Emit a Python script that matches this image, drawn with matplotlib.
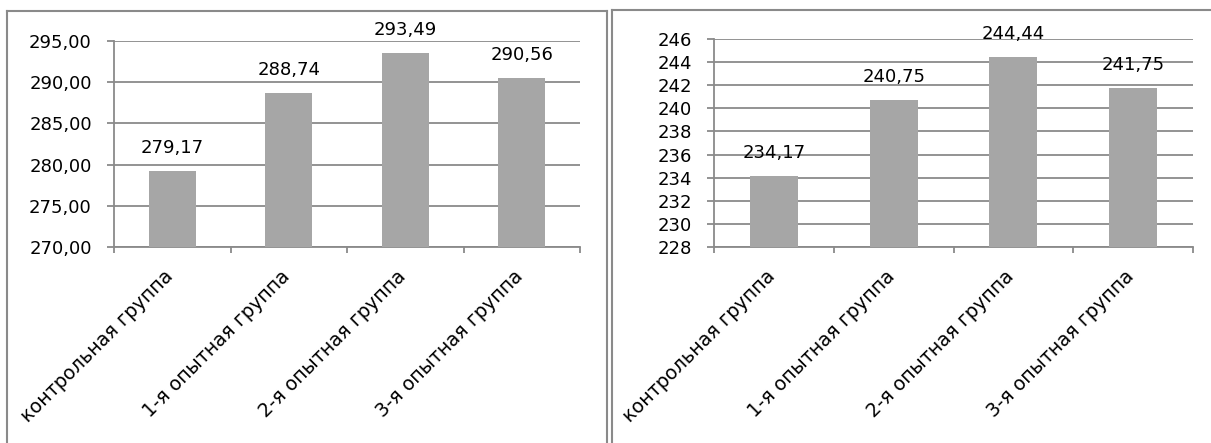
import matplotlib.pyplot as plt
import numpy as np
from matplotlib.lines import Line2D
from matplotlib.ticker import FuncFormatter, MultipleLocator

# Данные
groups = ['контрольная группа', '1-я опытная группа', '2-я опытная группа', '3-я опытная группа']
values_left = [279.17, 288.74, 293.49, 290.56]
values_right = [234.17, 240.75, 244.44, 241.75]

W, H = 1211, 443
plt.rcParams['font.family'] = ['DejaVu Sans']
fig = plt.figure(figsize=(W / 100, H / 100), dpi=100)

bar_color = '#a6a6a6'
line_color = '#8a8a8a'
fs = 13


def px_rect(x0, x1, ytop, ybot):
    return [x0 / W, 1 - ybot / H, (x1 - x0) / W, (ybot - ytop) / H]


def draw(ax, vals, ylim, step, fmt):
    x = np.arange(len(vals))
    bars = ax.bar(x, vals, width=0.40, color=bar_color, zorder=3)
    ax.set_xlim(-0.5, len(vals) - 0.5)
    ax.set_ylim(*ylim)
    ax.yaxis.set_major_locator(MultipleLocator(step))
    ax.yaxis.set_major_formatter(FuncFormatter(fmt))
    ax.grid(axis='y', color=line_color, linewidth=1.3, zorder=0)
    for s in ['top', 'right']:
        ax.spines[s].set_visible(False)
    for s in ['left', 'bottom']:
        ax.spines[s].set_color(line_color)
        ax.spines[s].set_linewidth(1.3)
    ax.set_xticks(x + 0.04)
    ax.set_xticklabels(groups, rotation=45, ha='right', fontsize=13.8)
    ax.set_xticks(np.arange(-0.5, len(vals)), minor=True)
    ax.tick_params(axis='x', which='major', length=0, pad=14)
    ax.tick_params(axis='x', which='minor', length=4.5, width=1.3, color=line_color)
    ax.tick_params(axis='y', length=5, width=1.3, color=line_color, pad=11, labelsize=fs)
    for b, v in zip(bars, vals):
        ax.annotate(f'{v:.2f}'.replace('.', ','), (b.get_x() + b.get_width() / 2, v),
                    xytext=(0, 13), textcoords='offset points',
                    ha='center', va='baseline', fontsize=fs, zorder=4)


ax1 = fig.add_axes(px_rect(114, 580, 41, 247))
draw(ax1, values_left, (270, 295), 5, lambda v, p: f'{v:.2f}'.replace('.', ','))

ax2 = fig.add_axes(px_rect(714, 1193, 39, 247))
draw(ax2, values_right, (228, 246), 2, lambda v, p: f'{v:.0f}')

# Рамки панелей
def fline(xs, ys):
    fig.add_artist(Line2D([x / W for x in xs], [1 - y / H for y in ys],
                          transform=fig.transFigure, color=line_color, linewidth=1.5))

fline([7, 7], [11, 443])
fline([7, 606.5], [11, 11])
fline([606.5, 606.5], [11, 443])
fline([612, 612], [10, 443])
fline([612, 1211], [10, 10])

fig.savefig('out.png', dpi=100)
